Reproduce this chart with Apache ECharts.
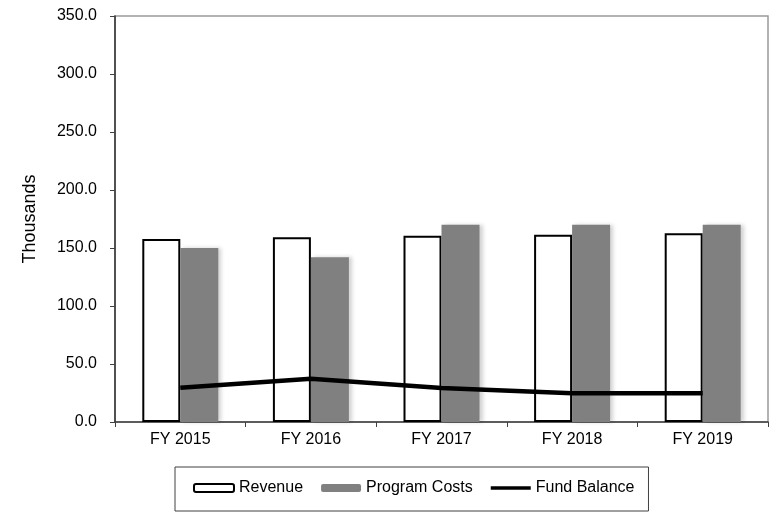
<!DOCTYPE html>
<html>
<head>
<meta charset="utf-8">
<script src="https://cdn.jsdelivr.net/npm/echarts@6/dist/echarts.min.js"></script>
<style>
  html, body { margin: 0; padding: 0; background: #fff; }
  #chart { width: 769px; height: 512px; }
</style>
</head>
<body>
<div id="chart"></div>
<script>
// Fiscal years shown on the category axis
const categories = ['FY 2015', 'FY 2016', 'FY 2017', 'FY 2018', 'FY 2019'];
// Values in thousands
const revenue = [157.8, 159.2, 160.6, 161.5, 162.7];
const programCosts = [150.0, 142.0, 170.0, 170.0, 170.0];
const fundBalance = [29.6, 37.3, 29.3, 24.7, 24.8];
// Value axis range
const yMin = 0;
const yMax = 350;
const yStep = 50;

const FONT = '"Liberation Sans", Arial, sans-serif';

const chart = echarts.init(document.getElementById('chart'), null, { renderer: 'canvas' });

chart.setOption({
  animation: false,
  backgroundColor: '#ffffff',
  textStyle: { fontFamily: FONT },
  grid: {
    left: 115, right: 1, top: 16, bottom: 90,
    show: true, borderColor: '#9a9a9a', borderWidth: 1.5, backgroundColor: 'transparent'
  },
  legend: {
    left: 175, top: 467,
    padding: [13, 14, 15, 18],
    borderColor: '#404040', borderWidth: 1,
    itemWidth: 40, itemHeight: 8, itemGap: 18,
    textStyle: { fontFamily: FONT, fontSize: 16, color: '#000' },
    data: [
      { name: 'Revenue' },
      { name: 'Program Costs' },
      // plain thick stroke for the balance line, no marker
      { name: 'Fund Balance', icon: 'path://M0,0 H44 V4 H0 Z' }
    ]
  },
  xAxis: {
    type: 'category',
    data: categories,
    axisLine: { lineStyle: { color: '#404040', width: 1.5 } },
    axisTick: { show: true, inside: false, length: 5, alignWithLabel: false, lineStyle: { color: '#404040' } },
    axisLabel: { fontFamily: FONT, fontSize: 16, color: '#000', margin: 10 },
    splitLine: { show: false }
  },
  yAxis: {
    type: 'value',
    min: yMin, max: yMax, interval: yStep,
    name: 'Thousands',
    nameLocation: 'middle',
    nameGap: 76,
    nameRotate: 90,
    nameTextStyle: { fontFamily: FONT, fontSize: 18, color: '#000' },
    axisLine: { show: true, lineStyle: { color: '#303030', width: 1.5 } },
    axisTick: { show: true, inside: false, length: 5, lineStyle: { color: '#404040' } },
    axisLabel: {
      fontFamily: FONT, fontSize: 16, color: '#000', margin: 18,
      formatter: v => v.toFixed(1)
    },
    splitLine: { show: false }
  },
  series: [
    {
      name: 'Revenue',
      type: 'bar',
      data: revenue,
      barWidth: 38,
      barGap: '0%',
      itemStyle: { color: '#ffffff', borderColor: '#000000', borderWidth: 2 }
    },
    {
      name: 'Program Costs',
      type: 'bar',
      data: programCosts,
      barWidth: 38,
      barGap: '0%',
      itemStyle: {
        color: '#808080',
        shadowColor: 'rgba(0,0,0,0.18)', shadowBlur: 4, shadowOffsetX: 3, shadowOffsetY: 0
      }
    },
    {
      name: 'Fund Balance',
      type: 'line',
      data: fundBalance,
      symbol: 'none',
      z: 5,
      lineStyle: { color: '#000000', width: 4.5 },
      itemStyle: { color: '#000000' }
    }
  ]
});
</script>
</body>
</html>
